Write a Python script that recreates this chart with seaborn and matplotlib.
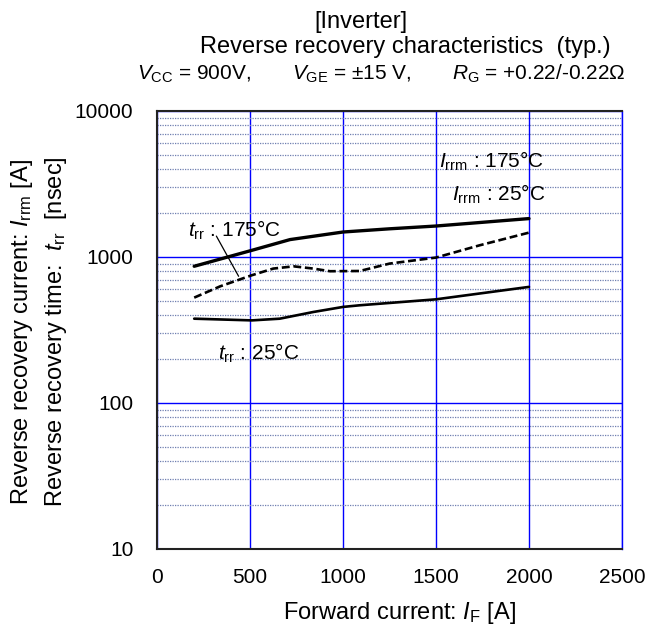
import matplotlib
matplotlib.use("Agg")
import matplotlib.pyplot as plt
import seaborn as sns
import pandas as pd
import numpy as np
from matplotlib.ticker import LogLocator, MultipleLocator, NullFormatter, FixedLocator

# Forward current [A] and curve values
if_trr_175 = [200, 340, 510, 625, 735, 840, 930, 1090, 1250, 1500, 1735, 2000]
trr_175 = [527, 630, 750, 833, 863, 833, 799, 802, 901, 991, 1203, 1469]

if_upper = [200, 510, 715, 1000, 1250, 1500, 2000]
upper = [864, 1111, 1316, 1483, 1560, 1630, 1833]

if_trr_25 = [200, 510, 660, 840, 1000, 1090, 1500, 2000]
trr_25 = [378, 368, 378, 420, 455, 467, 513, 624]

x_ticks = [0, 500, 1000, 1500, 2000, 2500]
y_ticks = [10, 100, 1000, 10000]

sns.set_theme(style="white")
plt.rcParams["font.family"] = ["Liberation Sans", "DejaVu Sans"]
plt.rcParams["mathtext.fontset"] = "custom"
plt.rcParams["mathtext.rm"] = "Liberation Sans"
plt.rcParams["mathtext.it"] = "Liberation Sans:italic"
plt.rcParams["mathtext.default"] = "it"
plt.rcParams["text.color"] = "black"

df = pd.concat([
    pd.DataFrame({"IF": if_upper, "val": upper, "curve": "upper"}),
    pd.DataFrame({"IF": if_trr_175, "val": trr_175, "curve": "trr175"}),
    pd.DataFrame({"IF": if_trr_25, "val": trr_25, "curve": "trr25"}),
])

fig = plt.figure(figsize=(6.56, 6.33), dpi=100)
ax = fig.add_axes([157 / 656, 1 - 549 / 633, (622 - 157) / 656, (549 - 111) / 633])

ax.set_yscale("log")
ax.set_xlim(0, 2500)
ax.set_ylim(10, 10000)

# grid: solid blue majors, dotted minor decades
ax.yaxis.set_minor_locator(LogLocator(base=10, subs=np.arange(2, 10)))
ax.yaxis.set_minor_formatter(NullFormatter())
ax.xaxis.set_major_locator(FixedLocator(x_ticks))
ax.yaxis.set_major_locator(FixedLocator(y_ticks))
ax.xaxis.set_minor_locator(MultipleLocator(100))
ax.grid(True, which="major", color="#0000ff", lw=1.0, ls="-")
ax.grid(True, which="minor", axis="y", color="#6f7fb0", lw=0.9, ls=(0, (1, 1)))
ax.grid(False, which="minor", axis="x")
ax.set_axisbelow(True)

sub = df[df.curve == "upper"]
sns.lineplot(data=sub, x="IF", y="val", ax=ax, color="black", lw=2.4, sort=True, estimator=None)
sub = df[df.curve == "trr175"]
sns.lineplot(data=sub, x="IF", y="val", ax=ax, color="black", lw=1.9, sort=True, estimator=None,
             dashes=False, linestyle=(0, (3, 1.4)))
sub = df[df.curve == "trr25"]
sns.lineplot(data=sub, x="IF", y="val", ax=ax, color="black", lw=1.9, sort=True, estimator=None)

ax.set_xticklabels([str(v) for v in x_ticks])
ax.set_yticklabels([str(v) for v in y_ticks])
ax.tick_params(axis="both", which="both", direction="in", colors="black", labelsize=15)
ax.tick_params(axis="x", which="major", length=6, pad=14)
ax.tick_params(axis="x", which="minor", length=4)
ax.tick_params(axis="y", which="major", length=6, pad=17)
ax.tick_params(axis="y", which="minor", length=4)
ax.set_xlabel("")
ax.set_ylabel("")

for s in ["left", "bottom", "top"]:
    ax.spines[s].set_color("#222222")
    ax.spines[s].set_linewidth(1.5)
ax.spines["right"].set_color("#0000ff")
ax.spines["right"].set_linewidth(1.0)

# curve labels
fs = 15
ax.text(1516, 4545, r"$I_{\rm rrm}$ : 175°C", fontsize=fs, ha="left", va="center")
ax.text(1584, 2674, r"$I_{\rm rrm}$ : 25°C", fontsize=fs, ha="left", va="center")
ax.text(167, 1524, r"$t_{\rm rr}$ : 175°C", fontsize=fs, ha="left", va="center")
ax.text(326, 219, r"$t_{\rm rr}$ : 25°C", fontsize=fs, ha="left", va="center")
ax.annotate("", xy=(446, 710), xytext=(312, 1445),
            arrowprops=dict(arrowstyle="-", color="black", lw=0.9))

# titles
tfs = 17
fig.text(361 / 656, 1 - 22 / 633, "[Inverter]", fontsize=tfs, ha="center", va="center")
fig.text(200 / 656, 1 - 47 / 633, "Reverse recovery characteristics  (typ.)", fontsize=tfs,
         ha="left", va="center")
cond_y = 1 - 74 / 633
fig.text(137 / 656, cond_y, r"$V_{\rm CC}$ = 900V,", fontsize=15, ha="left", va="center")
fig.text(292 / 656, cond_y, r"$V_{\rm GE}$ = ±15 V,", fontsize=15, ha="left", va="center")
fig.text(452 / 656, cond_y, r"$R_{\rm G}$ = +0.22/-0.22Ω", fontsize=15, ha="left", va="center")

# axis labels
fig.text(399 / 656, 1 - 613 / 633, r"Forward current: $I_{\rm F}$ [A]", fontsize=tfs,
         ha="center", va="center")
fig.text(22 / 656, 1 - 332 / 633, r"Reverse recovery current: $I_{\rm rrm}$ [A]", fontsize=tfs,
         ha="center", va="center", rotation=90)
fig.text(56 / 656, 1 - 332 / 633, r"Reverse recovery time:  $t_{\rm rr}$  [nsec]", fontsize=tfs,
         ha="center", va="center", rotation=90)

fig.savefig("out.png", dpi=100)
